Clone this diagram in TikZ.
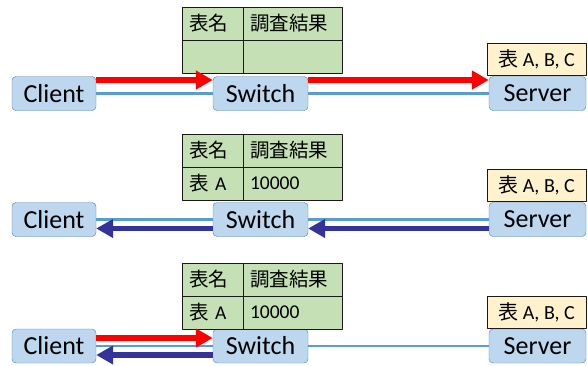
\documentclass[tikz,border=0pt]{standalone}
\usepackage{fontspec}
\setmainfont{Carlito}
\newfontfamily\jp{Noto Sans CJK JP}
\usetikzlibrary{positioning,arrows.meta}

\definecolor{boxblue}{RGB}{189,215,238}
\definecolor{boxedge}{RGB}{80,125,180}
\definecolor{linkblue}{RGB}{91,155,213}
\definecolor{cellgreen}{RGB}{197,224,180}
\definecolor{notecream}{RGB}{255,242,204}
\definecolor{replyblue}{RGB}{51,51,153}

\begin{document}
\begin{tikzpicture}[x=1pt,y=-1pt,line join=round]
    \tikzstyle{host}=[draw=boxedge,fill=boxblue,rounded corners=4pt,minimum height=34pt,inner sep=0pt,font=\fontsize{26}{30}\selectfont]
    \tikzstyle{cell}=[draw=black!90,line width=1pt,fill=cellgreen,minimum height=33pt,inner xsep=7pt,inner ysep=0pt,outer sep=0pt,align=left,font=\fontsize{19.5}{22}\selectfont,anchor=north west]
    \tikzstyle{name cell}=[cell,text width=47pt]
    \tikzstyle{value cell}=[cell,text width=85pt]
    \tikzstyle{note}=[draw=black!90,line width=1pt,fill=notecream,minimum width=99pt,minimum height=32pt,inner sep=0pt,font=\fontsize{20}{24}\selectfont]
    \tikzstyle{link}=[draw=linkblue,line width=2.5pt]
    \tikzstyle{request}=[draw=red,line width=5.5pt,-{Triangle[length=17pt,width=18pt]}]
    \tikzstyle{reply}=[draw=replyblue,line width=5.5pt,-{Triangle[length=17pt,width=18pt]}]

    \useasboundingbox (0,0) rectangle (588,365);

    % Draw the client, switch and server of each step
    \foreach \r/\y in {1/93.5,2/219.5,3/346} {
        \node[host,minimum width=84pt] (client\r) at (54,\y) {Client};
        \node[host,minimum width=95pt] (switch\r) at (260.5,\y) {Switch};
        \node[host,minimum width=97pt] (server\r) at (537.5,\y) {Server};
        \node[note,above=0pt of server\r,xshift=-1pt] (note\r) {{\jp 表} A, B, C};
    }

    % Tables held by the switch
    \node[name cell] (name1) at (182,7) {{\jp 表名}};
    \node[value cell,right=0pt of name1] (value1) {{\jp 調査結果}};
    \node[name cell,below=0pt of name1] (name1b) {};
    \node[value cell,below=0pt of value1] (value1b) {};

    \node[name cell] (name2) at (182,134) {{\jp 表名}};
    \node[value cell,right=0pt of name2] (value2) {{\jp 調査結果}};
    \node[name cell,below=0pt of name2] (name2b) {{\jp 表} A};
    \node[value cell,below=0pt of value2] (value2b) {10000};

    \node[name cell] (name3) at (182,263) {{\jp 表名}};
    \node[value cell,right=0pt of name3] (value3) {{\jp 調査結果}};
    \node[name cell,below=0pt of name3] (name3b) {{\jp 表} A};
    \node[value cell,below=0pt of value3] (value3b) {10000};

    % Links between the hosts
    \foreach \r in {1,2,3} {
        \draw[link] (client\r) -- (switch\r);
        \draw[link] (switch\r) -- (server\r);
    }

    % Step 1: the query goes through to the server
    \draw[request] ([yshift=13.5pt]client1.east) -- ([yshift=13.5pt]switch1.west);
    \draw[request] ([yshift=13.5pt]switch1.east) -- ([yshift=13.5pt]server1.west);

    % Step 2: the answer comes back
    \draw[reply] ([yshift=-9pt]server2.west) -- ([yshift=-9pt]switch2.east);
    \draw[reply] ([yshift=-9pt]switch2.west) -- ([yshift=-9pt]client2.east);

    % Step 3: the switch answers by itself
    \draw[request] ([yshift=8pt]client3.east) -- ([yshift=8pt]switch3.west);
    \draw[reply] ([yshift=-9pt]switch3.west) -- ([yshift=-9pt]client3.east);
\end{tikzpicture}
\end{document}
